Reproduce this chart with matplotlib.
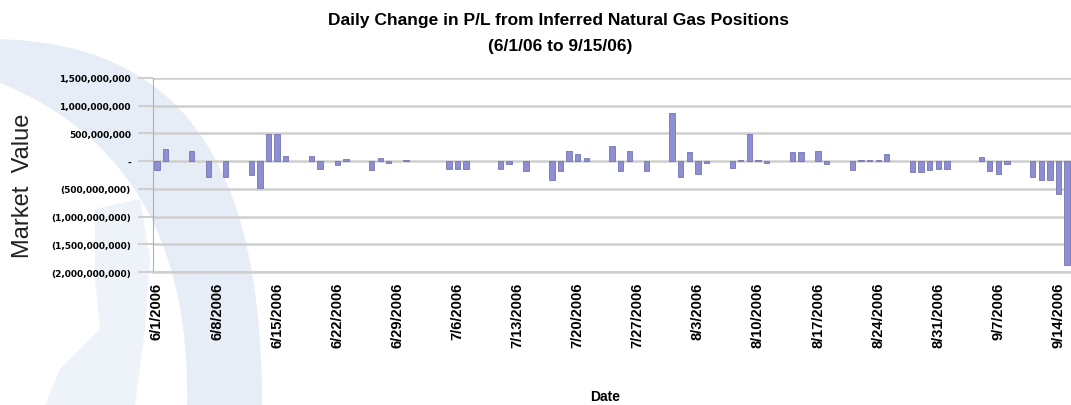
"""
Daily change in P/L from inferred natural gas positions, 6/1/06 - 9/15/06.
Bar chart on a calendar date axis (weekends / holidays have no bar).
"""

import datetime as dt
import matplotlib
matplotlib.use("Agg")
import matplotlib.pyplot as plt
import matplotlib.dates as mdates
from matplotlib.path import Path
from matplotlib.patches import PathPatch, Polygon
from matplotlib.ticker import FuncFormatter

# trading days that have a bar (month/day, 2006)
trade_days = [
    "6/1", "6/2", "6/5", "6/7", "6/9", "6/12", "6/13", "6/14", "6/15", "6/16",
    "6/19", "6/20", "6/22", "6/23", "6/26", "6/27", "6/28", "6/30",
    "7/5", "7/6", "7/7", "7/11", "7/12", "7/14", "7/17", "7/18", "7/19", "7/20",
    "7/21", "7/24", "7/25", "7/26", "7/28", "7/31",
    "8/1", "8/2", "8/3", "8/4", "8/7", "8/8", "8/9", "8/10", "8/11", "8/14",
    "8/15", "8/17", "8/18", "8/21", "8/22", "8/23", "8/24", "8/25", "8/28",
    "8/29", "8/30", "8/31", "9/1", "9/5", "9/6", "9/7", "9/8", "9/11", "9/12",
    "9/13", "9/14", "9/15",
]

# daily change in market value, $ millions
pl_change_mm = [
    -160, 215, 185, -295, -295, -245, -490, 485, 485, 90,
    85, -135, -70, 40, -165, 55, -40, 25,
    -135, -135, -135, -135, -45, -175, -340, -170, 185, 120,
    50, 265, -170, 180, -175, 870,
    -295, 160, -225, -30, -115, 25, 485, 25, -40, 160,
    170, 175, -50, -155, 25, 25, 25, 130, -200,
    -200, -160, -140, -140, 80, -170, -225, -50, -290, -340,
    -345, -595, -1870,
]

# weekly tick dates
tick_days = ["6/1", "6/8", "6/15", "6/22", "6/29", "7/6", "7/13", "7/20",
             "7/27", "8/3", "8/10", "8/17", "8/24", "8/31", "9/7", "9/14"]

y_ticks = [-2.0e9, -1.5e9, -1.0e9, -0.5e9, 0, 0.5e9, 1.0e9, 1.5e9]

BAR_COLOR = "#8e8ed2"
GRID_COLOR = "#cfcfcf"
W, H = 1071, 406


def to_date(md):
    m, d = md.split("/")
    return dt.date(2006, int(m), int(d))


def money(v, pos=None):
    if abs(v) < 1:
        return "-"
    if v < 0:
        return f"({abs(v):,.0f})"
    return f"{v:,.0f}"


def px(x, y):
    # pixel position -> figure fraction
    return (x / W, 1 - y / H)


def add_watermark(fig):
    # faint blue swoosh behind the chart
    verts = [px(-2, 40), px(180, 45), px(262, 160), px(262, 406),
             px(187, 406), px(190, 260), px(140, 140), px(-2, 83),
             px(-2, 40)]
    codes = [Path.MOVETO, Path.CURVE4, Path.CURVE4, Path.CURVE4,
             Path.LINETO, Path.CURVE4, Path.CURVE4, Path.CURVE4,
             Path.CLOSEPOLY]
    band = PathPatch(Path(verts, codes), transform=fig.transFigure,
                     facecolor="#e7edf7", edgecolor="none", zorder=0)
    fig.add_artist(band)

    blob = Polygon([px(95, 210), px(140, 200), px(150, 260), px(145, 330),
                    px(135, 406), px(45, 406), px(60, 370), px(100, 330),
                    px(95, 280)], closed=True, transform=fig.transFigure,
                   facecolor="#eef2f9", edgecolor="none", zorder=0)
    fig.add_artist(blob)


def main():
    dates = [to_date(d) for d in trade_days]
    values = [v * 1e6 for v in pl_change_mm]
    ticks = [to_date(d) for d in tick_days]

    fig = plt.figure(figsize=(W / 100, H / 100), dpi=100)
    add_watermark(fig)

    ax = fig.add_axes([153 / W, 1 - 273 / H, (W - 153) / W, (273 - 79) / H])
    ax.set_facecolor("none")

    ax.bar(dates, values, width=0.62, color=BAR_COLOR,
           edgecolor="#7474b4", linewidth=0.6, zorder=3)

    # axes ranges
    start = mdates.date2num(dates[0]) - 0.46
    end = mdates.date2num(dates[-1]) + 0.46
    ax.set_xlim(start, end)
    ax.set_ylim(y_ticks[0], y_ticks[-1])

    ax.set_yticks(y_ticks)
    ax.yaxis.set_major_formatter(FuncFormatter(money))
    ax.grid(axis="y", color=GRID_COLOR, linewidth=1.8, zorder=1)
    ax.set_axisbelow(True)

    ax.set_xticks([mdates.date2num(t) for t in ticks])
    ax.set_xticklabels([f"{t.month}/{t.day}/{t.year}" for t in ticks],
                       rotation=90, fontsize=10.5, fontweight="bold",
                       family="Liberation Sans", va="top")
    ax.tick_params(axis="x", length=0, pad=7)
    ax.tick_params(axis="y", length=11, width=1.5, color=GRID_COLOR, pad=5,
                   labelsize=6.5)
    for lbl in ax.get_yticklabels():
        lbl.set_fontweight("bold")

    for side in ["top", "right"]:
        ax.spines[side].set_visible(False)
    ax.spines["left"].set_color("#b0b0b0")
    ax.spines["bottom"].set_color(GRID_COLOR)
    ax.spines["bottom"].set_linewidth(1.8)

    ax.set_ylabel("Market  Value", fontsize=17, family="Liberation Sans",
                  color="#222222")
    ax.yaxis.set_label_coords(-(153 - 34) / (W - 153), 0.45)
    fig.text(605 / W, 1 - 397 / H, "Date", ha="center", va="center",
             fontsize=10, fontweight="bold", family="Liberation Sans")

    fig.text(558 / W, 1 - 20 / H,
             "Daily Change in P/L from Inferred Natural Gas Positions",
             ha="center", va="center", fontsize=12.5, fontweight="bold",
             family="Liberation Sans")
    fig.text(560 / W, 1 - 46 / H, "(6/1/06 to 9/15/06)",
             ha="center", va="center", fontsize=12.5, fontweight="bold",
             family="Liberation Sans")

    fig.savefig("out.png", dpi=100)
    plt.close(fig)


if __name__ == "__main__":
    main()
